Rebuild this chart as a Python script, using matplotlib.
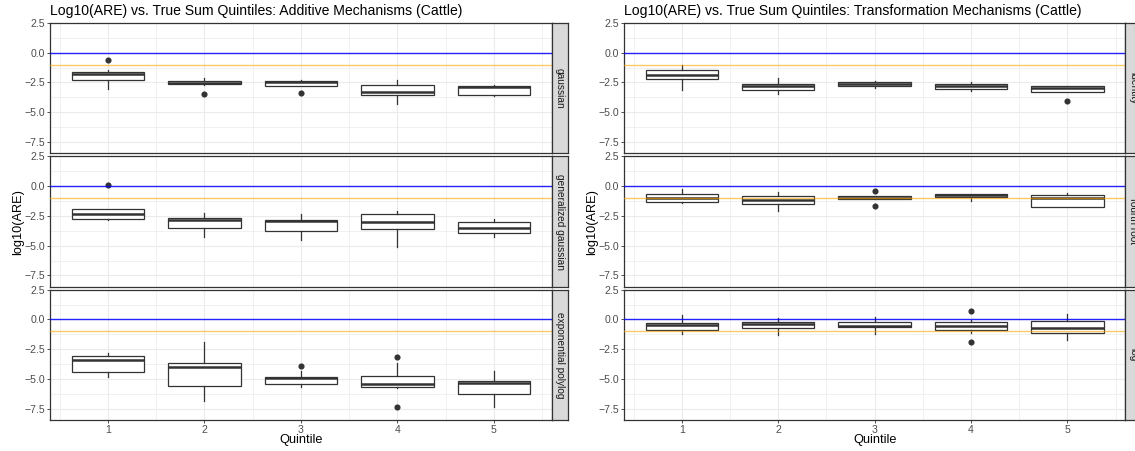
import matplotlib
matplotlib.use("Agg")
import matplotlib.pyplot as plt
from matplotlib.ticker import FixedLocator, FuncFormatter

W, H = 1135, 451
DPI = 100

quintiles = [1, 2, 3, 4, 5]
y_ticks = [2.5, 0.0, -2.5, -5.0, -7.5]
y_minor = [1.25, -1.25, -3.75, -6.25]
x_minor = [0.5, 1.5, 2.5, 3.5, 4.5, 5.5]
blue_line = 0.0
orange_line = -1.0

titles = ["Log10(ARE) vs. True Sum Quintiles: Additive Mechanisms (Cattle)",
          "Log10(ARE) vs. True Sum Quintiles: Transformation Mechanisms (Cattle)"]
left_facets = ["gaussian", "generalized gaussian", "exponential polylog"]
right_facets = ["identity", "fourth root", "log"]

# ---- Additive: gaussian
gauss_whislo = [-3.07, -2.70, -2.76, -4.29, -3.66]
gauss_q1 = [-2.30, -2.67, -2.76, -3.52, -3.52]
gauss_med = [-1.82, -2.56, -2.50, -3.27, -2.90]
gauss_q3 = [-1.59, -2.39, -2.36, -2.73, -2.81]
gauss_whishi = [-1.42, -2.13, -2.30, -2.27, -2.73]
gauss_fliers = [[-0.65], [-3.44], [-3.35], [], []]

# ---- Additive: generalized gaussian
ggauss_whislo = [-2.87, -4.28, -4.54, -5.10, -4.25]
ggauss_q1 = [-2.76, -3.52, -3.77, -3.58, -3.94]
ggauss_med = [-2.37, -2.85, -2.96, -2.99, -3.52]
ggauss_q3 = [-1.94, -2.68, -2.87, -2.34, -3.01]
ggauss_whishi = [-1.89, -2.23, -2.34, -2.11, -2.73]
ggauss_fliers = [[0.11], [], [], [], []]

# ---- Additive: exponential polylog
expo_whislo = [-4.79, -6.80, -5.64, -5.72, -7.31]
expo_q1 = [-4.39, -5.61, -5.38, -5.64, -6.23]
expo_med = [-3.40, -3.97, -4.93, -5.41, -5.35]
expo_q3 = [-3.06, -3.63, -4.82, -4.73, -5.16]
expo_whishi = [-2.78, -1.93, -4.33, -3.65, -4.31]
expo_fliers = [[], [], [-3.88], [-3.14, -7.34], []]

# ---- Transformation: identity
ident_whislo = [-3.15, -3.47, -2.93, -3.21, -3.30]
ident_q1 = [-2.22, -3.10, -2.81, -3.07, -3.30]
ident_med = [-1.85, -2.84, -2.61, -2.84, -2.98]
ident_q3 = [-1.45, -2.67, -2.44, -2.67, -2.84]
ident_whishi = [-1.08, -2.13, -2.42, -2.44, -2.78]
ident_fliers = [[], [], [], [], [-4.06]]

# ---- Transformation: fourth root
froot_whislo = [-1.44, -2.11, -1.10, -1.24, -1.80]
froot_q1 = [-1.30, -1.49, -1.10, -0.96, -1.80]
froot_med = [-1.01, -1.18, -0.99, -0.79, -1.01]
froot_q3 = [-0.70, -0.82, -0.87, -0.68, -0.73]
froot_whishi = [-0.28, -0.48, -0.87, -0.68, -0.56]
froot_fliers = [[], [], [-0.42, -1.66], [], []]

# ---- Transformation: log
log_whislo = [-1.19, -1.33, -1.25, -1.16, -1.76]
log_q1 = [-0.91, -0.71, -0.65, -0.85, -1.10]
log_med = [-0.45, -0.42, -0.54, -0.54, -0.76]
log_q3 = [-0.34, -0.25, -0.23, -0.25, -0.14]
log_whishi = [0.40, 0.14, 0.20, -0.05, 0.45]
log_fliers = [[], [], [], [0.71, -1.93], []]

left_data = [
    (gauss_whislo, gauss_q1, gauss_med, gauss_q3, gauss_whishi, gauss_fliers),
    (ggauss_whislo, ggauss_q1, ggauss_med, ggauss_q3, ggauss_whishi, ggauss_fliers),
    (expo_whislo, expo_q1, expo_med, expo_q3, expo_whishi, expo_fliers),
]
right_data = [
    (ident_whislo, ident_q1, ident_med, ident_q3, ident_whishi, ident_fliers),
    (froot_whislo, froot_q1, froot_med, froot_q3, froot_whishi, froot_fliers),
    (log_whislo, log_q1, log_med, log_q3, log_whishi, log_fliers),
]

plt.rcParams['font.family'] = ['Liberation Sans', 'DejaVu Sans']

fig = plt.figure(figsize=(W / DPI, H / DPI), dpi=DPI)
fig.patch.set_facecolor("white")

DARK = "#333333"
GRID = "#EBEBEB"


def px_axes(left, top, width, height):
    return fig.add_axes([left / W, 1 - (top + height) / H, width / W, height / H])


def fmt(v, pos):
    return "{:.1f}".format(v).replace("-", "\u2212")


panel_tops = [22.8, 156.2, 289.6]
panel_h = 130.6
strip_w = 15.8


def draw_column(x0, x1, data, facets, title, ylab_x):
    for i, (top, d, name) in enumerate(zip(panel_tops, data, facets)):
        ax = px_axes(x0, top, x1 - x0, panel_h)
        wlo, q1, med, q3, whi, fl = d
        stats = []
        for k in range(len(quintiles)):
            stats.append(dict(whislo=wlo[k], q1=q1[k], med=med[k], q3=q3[k],
                              whishi=whi[k], fliers=fl[k]))
        ax.bxp(stats, positions=quintiles, widths=0.75, patch_artist=True,
               showcaps=False, manage_ticks=False,
               boxprops=dict(facecolor="white", edgecolor=DARK, linewidth=0.9),
               medianprops=dict(color=DARK, linewidth=1.8),
               whiskerprops=dict(color=DARK, linewidth=0.9),
               flierprops=dict(marker="o", markerfacecolor=DARK,
                               markeredgecolor=DARK, markersize=3.4))
        ax.axhline(blue_line, color="blue", lw=1.0, alpha=0.85, zorder=5)
        ax.axhline(orange_line, color="orange", lw=1.0, alpha=0.6, zorder=5)
        ax.set_xlim(0.4, 5.6)
        ax.set_ylim(-8.45, 2.5)
        ax.xaxis.set_major_locator(FixedLocator(quintiles))
        ax.xaxis.set_minor_locator(FixedLocator(x_minor))
        ax.yaxis.set_major_locator(FixedLocator(y_ticks))
        ax.yaxis.set_minor_locator(FixedLocator(y_minor))
        ax.yaxis.set_major_formatter(FuncFormatter(fmt))
        ax.set_axisbelow(True)
        ax.grid(which="major", color=GRID, lw=0.8)
        ax.grid(which="minor", color=GRID, lw=0.5)
        ax.tick_params(which="minor", length=0)
        ax.tick_params(which="major", direction="out", length=2.0, width=0.6,
                       color=DARK, labelcolor="#4D4D4D", labelsize=7.6, pad=1.5)
        if i < 2:
            ax.tick_params(axis="x", which="both", bottom=False, labelbottom=False)
        for s in ax.spines.values():
            s.set_color(DARK)
            s.set_linewidth(0.9)
        # strip
        sax = px_axes(x1, top, strip_w, panel_h)
        sax.set_facecolor("#D9D9D9")
        sax.set_xticks([])
        sax.set_yticks([])
        for s in sax.spines.values():
            s.set_color(DARK)
            s.set_linewidth(0.9)
        sax.text(0.5, 0.5, name, rotation=-90, ha="center", va="center",
                 fontsize=7.3, color="#1A1A1A", transform=sax.transAxes)
    fig.text(x0 / W, 1 - 15 / H, title, ha="left", va="baseline",
             fontsize=10.1, color="black")
    fig.text(ylab_x / W, 1 - 221.5 / H, "log10(ARE)", rotation=90,
             ha="center", va="center", fontsize=9.2, color="black")
    fig.text((x0 + x1) / 2 / W, 1 - 440 / H, "Quintile", ha="center",
             va="center", fontsize=9.2, color="black")


draw_column(50, 551.7, left_data, left_facets, titles[0], 18)
draw_column(624, 1125.3, right_data, right_facets, titles[1], 592)

fig.savefig("out.png", dpi=DPI)
